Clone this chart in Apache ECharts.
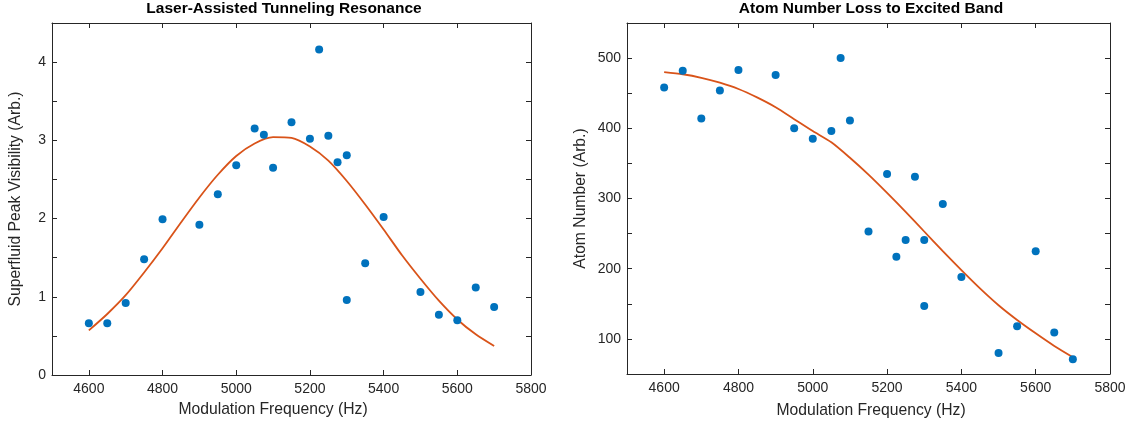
<!DOCTYPE html>
<html>
<head>
<meta charset="utf-8">
<script src="https://cdn.jsdelivr.net/npm/echarts@6/dist/echarts.min.js"></script>
<style>
html,body{margin:0;padding:0;background:#fff;}
#chart{width:1131px;height:425px;}
</style>
</head>
<body>
<div id="chart"></div>
<script>
// ---- data ----
const freq = [4600,4650,4700,4750,4800,4900,4950,5000,5050,5075,5100,5150,5200,5225,5250,5275,5300,5300,5350,5400,5500,5550,5600,5650,5700];
const visibility = [0.66,0.66,0.92,1.48,1.99,1.92,2.31,2.68,3.15,3.07,2.65,3.23,3.02,4.16,3.06,2.72,2.81,0.96,1.43,2.02,1.06,0.77,0.70,1.12,0.87];
const atomNumber = [458,482,414,454,483,476,400,385,396,500,411,253,335,217,241,331,241,147,292,188,80,118,225,109,71];

const fitFreq = [4600,4650,4700,4750,4800,4850,4900,4950,5000,5050,5100,5150,5200,5250,5300,5350,5400,5450,5500,5550,5600,5650,5700];
const visibilityFit = [0.57,0.78,1.02,1.31,1.62,1.95,2.27,2.56,2.80,2.96,3.04,3.03,2.92,2.74,2.48,2.18,1.86,1.53,1.23,0.95,0.71,0.52,0.37];
const atomFit = [480,477,472,465,456,444,430,413,396,380,358,334,308,281,253,225,198,172,148,127,108,90,74];

const xTicks = [4600,4800,5000,5200,5400,5600,5800];
const leftTitle = 'Laser-Assisted Tunneling Resonance';
const rightTitle = 'Atom Number Loss to Excited Band';
const xName = 'Modulation Frequency (Hz)';
const leftYName = 'Superfluid Peak Visibility (Arb.)';
const rightYName = 'Atom Number (Arb.)';

// ---- styling ----
const FONT = 'Liberation Sans';
const AX = '#262626';
const BLUE = '#0072BD';
const ORANGE = '#D95319';

function pairs(xs, ys){ return xs.map((x,i)=>[x, ys[i]]); }

function xAx(grid, bottom){
  return {
    type:'value', gridIndex:grid, position: bottom ? 'bottom' : 'top',
    min:4500, max:5800,
    axisLine:{show:true,onZero:false,lineStyle:{color:AX,width:1}},
    axisTick:{show:true,inside:true,length:5,customValues:xTicks,lineStyle:{color:AX,width:1}},
    axisLabel:{show:bottom,customValues:xTicks,fontFamily:FONT,fontSize:14,color:AX,margin:7,
      formatter:function(v){ return String(v); }},
    splitLine:{show:false}
  };
}
function yAx(grid, left, min, max, interval, labelStep, name, gap){
  return {
    type:'value', gridIndex:grid, position: left ? 'left' : 'right',
    min:min, max:max, interval:interval,
    name: left ? name : '', nameLocation:'middle', nameGap:gap,
    nameTextStyle:{fontFamily:FONT,fontSize:15.7,color:AX},
    axisLine:{show:true,onZero:false,lineStyle:{color:AX,width:1}},
    axisTick:{show:true,inside:true,length:5,lineStyle:{color:AX,width:1}},
    axisLabel:{show:left,fontFamily:FONT,fontSize:14,color:AX,margin:6,
      formatter:function(v){ return (Math.abs(v/labelStep - Math.round(v/labelStep))<1e-9) ? String(v) : ''; }},
    splitLine:{show:false}
  };
}

const chart = echarts.init(document.getElementById('chart'), null, {renderer:'canvas'});
chart.setOption({
  animation:false,
  backgroundColor:'#fff',
  grid:[
    {left:52, top:23, width:479, height:352},
    {left:627, top:23, width:483, height:351}
  ],
  xAxis:[ xAx(0,true), xAx(0,false), xAx(1,true), xAx(1,false) ],
  yAxis:[
    yAx(0,true,0,4.5,0.5,1,leftYName,28),
    yAx(0,false,0,4.5,0.5,1,'',0),
    yAx(1,true,50,550,50,100,rightYName,38),
    yAx(1,false,50,550,50,100,'',0)
  ],
  graphic:[
    {type:'text', x:284, y:9, style:{text:leftTitle, font:'bold 15.5px "Liberation Sans"', fill:'#000', textAlign:'center', textVerticalAlign:'middle'}},
    {type:'text', x:871, y:9, style:{text:rightTitle, font:'bold 15.5px "Liberation Sans"', fill:'#000', textAlign:'center', textVerticalAlign:'middle'}},
    {type:'text', x:273, y:410, style:{text:xName, font:'15.7px "Liberation Sans"', fill:AX, textAlign:'center', textVerticalAlign:'middle'}},
    {type:'text', x:871, y:411, style:{text:xName, font:'15.7px "Liberation Sans"', fill:AX, textAlign:'center', textVerticalAlign:'middle'}}
  ],
  series:[
    {type:'scatter', xAxisIndex:0, yAxisIndex:0, data:pairs(freq,visibility), symbol:'circle', symbolSize:8, itemStyle:{color:BLUE,opacity:1}, z:3},
    {type:'line', xAxisIndex:0, yAxisIndex:0, data:pairs(fitFreq,visibilityFit), smooth:0.25, showSymbol:false, lineStyle:{color:ORANGE,width:1.8}, z:2},
    {type:'scatter', xAxisIndex:2, yAxisIndex:2, data:pairs(freq,atomNumber), symbol:'circle', symbolSize:8, itemStyle:{color:BLUE,opacity:1}, z:3},
    {type:'line', xAxisIndex:2, yAxisIndex:2, data:pairs(fitFreq,atomFit), smooth:0.25, showSymbol:false, lineStyle:{color:ORANGE,width:1.8}, z:2}
  ]
});
</script>
</body>
</html>
